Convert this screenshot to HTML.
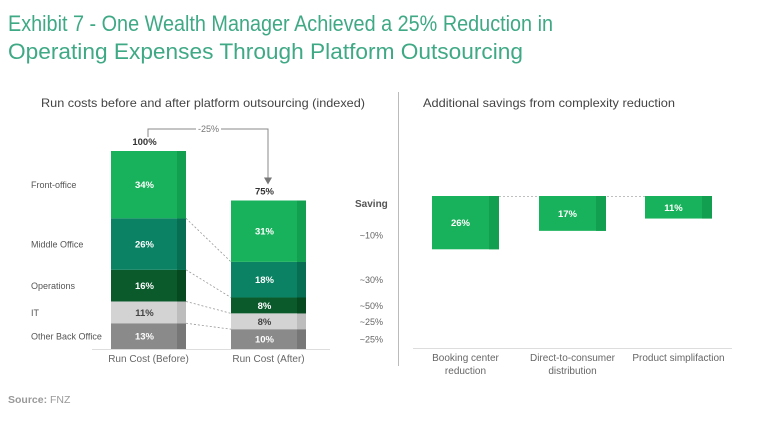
<!DOCTYPE html>
<html><head><meta charset="utf-8"><style>
body{margin:0;background:#fff;}
svg{display:block;font-family:"Liberation Sans",sans-serif;}
</style></head><body>
<svg id="c" width="768" height="430" viewBox="0 0 768 430" xmlns="http://www.w3.org/2000/svg">
<text x="8" y="31" font-size="22" fill="#3fa985" textLength="545" lengthAdjust="spacingAndGlyphs">Exhibit 7 - One Wealth Manager Achieved a 25% Reduction in</text>
<text x="8" y="59" font-size="22" fill="#3fa985" textLength="515" lengthAdjust="spacingAndGlyphs">Operating Expenses Through Platform Outsourcing</text>
<text x="41" y="107" font-size="12" fill="#444" textLength="324" lengthAdjust="spacingAndGlyphs">Run costs before and after platform outsourcing (indexed)</text>
<text x="423" y="107" font-size="12" fill="#444" textLength="252" lengthAdjust="spacingAndGlyphs">Additional savings from complexity reduction</text>
<line x1="398.5" y1="92" x2="398.5" y2="366" stroke="#bbb"/>
<text x="8" y="403" font-size="10.5" fill="#999"><tspan font-weight="bold">Source:</tspan> FNZ</text>
<g id="left"></g><g id="right"></g>
</svg>
<script>
const segNames=["Other Back Office","IT","Operations","Middle Office","Front-office"];
const beforeVals=[13,11,16,26,34];
const afterVals=[10,8,8,18,31];
const savingLabels=["~25%","~25%","~50%","~30%","~10%"];
const beforeTotal="100%", afterTotal="75%";
const colCats=["Run Cost (Before)","Run Cost (After)"];
const segColors=["#8a8a8a","#d3d3d3","#0a5a2c","#0a8263","#19b25c"];
const stripeColors=["#777","#bdbdbd","#06481f","#086e53","#12a050"];
const txtColors=["#fff","#444","#fff","#fff","#fff"];

const extCats=["Booking center|reduction","Direct-to-consumer|distribution","Product simplifaction"];
const extVals=[26,17,11];

const NS="http://www.w3.org/2000/svg";
function mk(p,t,a,txt){const e=document.createElementNS(NS,t);for(const k in a)e.setAttribute(k,a[k]);if(txt!==undefined)e.textContent=txt;p.appendChild(e);return e;}
// left chart
const L=document.getElementById('left');
const base=349, sc=1.98;
const yL=v=>base-v*sc;
const colX=[111,231], bw=75;
mk(L,'line',{x1:92,y1:349.5,x2:330,y2:349.5,stroke:'#ddd'});
const tops=[[],[]];
[beforeVals,afterVals].forEach((vals,ci)=>{
  let cum=0;
  vals.forEach((v,i)=>{
    const y0=yL(cum+v), y1=yL(cum);
    tops[ci].push([y0,y1]);
    let r=mk(L,'rect',{x:colX[ci],y:y0,width:bw,height:y1-y0,fill:segColors[i]});
    
    
    mk(L,'rect',{x:colX[ci]+bw-9,y:y0,width:9,height:y1-y0,fill:stripeColors[i]});
    let t=mk(L,'text',{x:colX[ci]+bw/2-4,y:(y0+y1)/2+3.5,'font-size':9.5,'font-weight':'bold',fill:txtColors[i],'text-anchor':'middle'},v+'%');
    
    
    cum+=v;
  });
  let tt=mk(L,'text',{x:colX[ci]+bw/2-4,y:yL(cum)-6,'font-size':9.5,'font-weight':'bold',fill:'#333','text-anchor':'middle'},ci?afterTotal:beforeTotal);
  
  
  let cl=mk(L,'text',{x:colX[ci]+bw/2,y:362,'font-size':10,fill:'#666','text-anchor':'middle'},colCats[ci]);
  
  
});
// category names & connector lines & savings
segNames.forEach((n,i)=>{
  const [a0,a1]=tops[0][i];
  let t=mk(L,'text',{x:31,y:(a0+a1)/2+3.5,'font-size':9,fill:'#555'},n);
  
  
  if(i<4){mk(L,'line',{x1:186,y1:a0,x2:231,y2:tops[1][i][0],stroke:'#999','stroke-dasharray':'2,2','stroke-width':0.8});}
  const [b0,b1]=tops[1][i];
  let s=mk(L,'text',{x:383,y:(b0+b1)/2+3.5+ (i==4?4:0),'font-size':9,fill:'#666','text-anchor':'end'},savingLabels[i]);
  
  
});
let sh=mk(L,'text',{x:355,y:207,'font-size':10,'font-weight':'bold',fill:'#555'},'Saving');


// arrow
const bTop=yL(beforeVals.reduce((a,b)=>a+b,0)), aTop=yL(afterVals.reduce((a,b)=>a+b,0));
mk(L,'path',{d:`M148,${bTop-14} V129 H268 V${aTop-22}`,fill:'none',stroke:'#888','stroke-width':1});
mk(L,'path',{d:`M264,${aTop-23} L272,${aTop-23} L268,${aTop-16} Z`,fill:'#777'});
mk(L,'rect',{x:196,y:123,width:25,height:12,fill:'#fff'});
let ar=mk(L,'text',{x:208.5,y:132,'font-size':9,fill:'#777','text-anchor':'middle'},'-25%');


// right chart
const R=document.getElementById('right');
const rTop=196, rsc=2.05;
const yR=v=>rTop+v*rsc;
const rx=[432,539,645], rbw=67;
mk(R,'line',{x1:413,y1:348.5,x2:732,y2:348.5,stroke:'#ddd'});
mk(R,'line',{x1:499,y1:196.5,x2:645,y2:196.5,stroke:'#aaa','stroke-dasharray':'2,2','stroke-width':0.8});
extVals.forEach((v,i)=>{
  let r=mk(R,'rect',{x:rx[i],y:rTop,width:rbw,height:yR(v)-rTop,fill:'#19b25c'});
  
  
  mk(R,'rect',{x:rx[i]+rbw-10,y:rTop,width:10,height:yR(v)-rTop,fill:'#12a050'});
  let t=mk(R,'text',{x:rx[i]+rbw/2-5,y:(rTop+yR(v))/2+3.5,'font-size':9.5,'font-weight':'bold',fill:'#fff','text-anchor':'middle'},v+'%');
  
  
  extCats[i].split('|').forEach((ln,j)=>{
    let c=mk(R,'text',{x:rx[i]+rbw/2,y:361+j*13,'font-size':10,fill:'#666','text-anchor':'middle'},ln);
    
    
  });
});
</script>
</body></html>
